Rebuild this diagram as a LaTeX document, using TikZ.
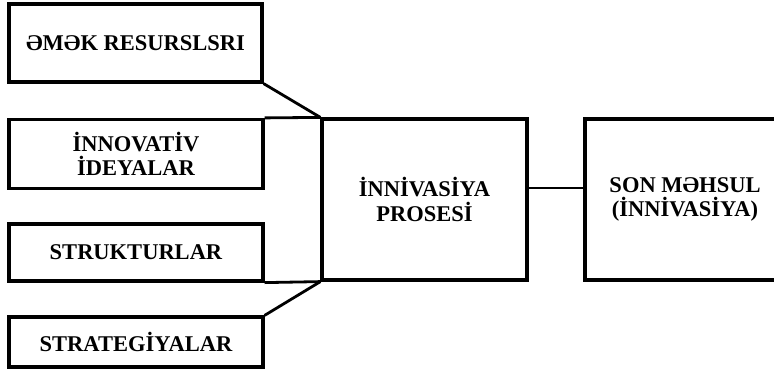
\documentclass[tikz,border=0pt]{standalone}
\usepackage{fontspec}
\setmainfont{Liberation Serif}
\begin{document}
\begin{tikzpicture}[x=1pt,y=-1pt,
  box/.style={draw,line width=3.2pt,inner sep=0pt,align=center,
    font=\fontsize{22.5}{24.5}\selectfont\bfseries},
  link/.style={line width=2.8pt}]
\useasboundingbox (0,0) rectangle (774,372);
\begin{scope}
\clip (0,0) rectangle (774,372);
% inputs on the left
\node[box,minimum width=253pt,minimum height=78pt] (res) at (135.5,43) {ƏMƏK RESURSLSRI};
\node[box,minimum width=254pt,minimum height=69pt] (idea) at (136,154) {İNNOVATİV\\İDEYALAR};
\node[box,minimum width=254pt,minimum height=57pt] (str) at (136,252.5) {STRUKTURLAR};
\node[box,minimum width=254pt,minimum height=50pt] (strat) at (136,342) {STRATEGİYALAR};
% process and result
\node[box,minimum width=205pt,minimum height=161pt] (proc) at (424.5,199.5) {İNNİVASİYA\\PROSESİ};
\node[box,minimum width=200pt,minimum height=161pt] (prod) at (685,199.5) {SON MƏHSUL\\(İNNİVASİYA)};
% connectors
\draw[link] (res.south east) -- (proc.north west);
\draw[link] (idea.north east) -- (proc.north west);
\draw[link] (str.south east) -- (proc.south west);
\draw[link] (strat.north east) -- (proc.south west);
\coordinate (pout) at ([yshift=11.5pt]proc.east);
\draw[link] (pout) -- (prod.west |- pout);
\end{scope}
\end{tikzpicture}
\end{document}
